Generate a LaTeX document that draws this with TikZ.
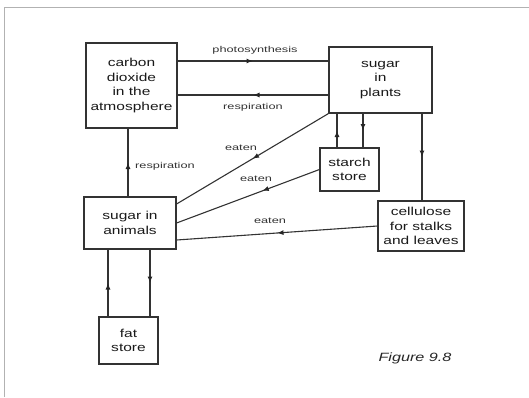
\documentclass[tikz,border=0pt]{standalone}
\usepackage{fontspec}
\setmainfont{Liberation Sans}[FakeStretch=1.35]
\newfontfamily\lblfont{Liberation Sans}[FakeStretch=1.5]
\usetikzlibrary{arrows.meta,decorations.markings}
\tikzset{
  box/.style={draw=black!80,line width=1.1pt,align=center,inner sep=0pt,
    text=black!90,font=\fontsize{11.5}{14.5}\selectfont},
  lbl/.style={text=black!80,font=\lblfont\fontsize{8.5}{10}\selectfont,inner sep=1pt},
  flow/.style={draw=black!80,line width=1.1pt,postaction={decorate},
    decoration={markings,mark=at position #1 with {\arrow[black!85]{Latex[length=6.5pt,width=5pt]}}}},
  flow/.default=0.5
}
\begin{document}
\begin{tikzpicture}[x=1pt,y=-1pt]
\useasboundingbox (0,0) rectangle (529,397);
\draw[gray!60,line width=0.8pt] (4,397) |- (529,7);
% stores
\node[box,minimum width=91pt,minimum height=85pt] (co2) at (131.5,85.5) {carbon\\dioxide\\in the\\atmosphere};
\node[box,minimum width=103pt,minimum height=66pt] (plants) at (380.5,80) {sugar\\in\\plants};
\node[box,minimum width=59pt,minimum height=43pt] (starch) at (349.5,169.5) {starch\\store};
\node[box,minimum width=86pt,minimum height=50pt] (cellulose) at (421,226) {cellulose\\for stalks\\and leaves};
\node[box,minimum width=92pt,minimum height=52pt] (animals) at (130,223) {sugar in\\animals};
\node[box,minimum width=59pt,minimum height=47pt] (fat) at (128.5,340.5) {fat\\store};
% flows
\draw[flow] ([yshift=24.5pt]co2.east) -- ([yshift=19pt]plants.west);
\draw[flow] ([yshift=-15pt]plants.west) -- ([yshift=-9.5pt]co2.east);
\draw[flow] ([xshift=-2pt]animals.north) -- ([xshift=-2pt]animals.north |- co2.south);
\draw[flow] ([xshift=-12.5pt]starch.north) -- ([xshift=-12.5pt]starch.north |- plants.south);
\draw[flow] ([xshift=13.5pt]starch.north |- plants.south) -- ([xshift=13.5pt]starch.north);
\draw[flow] ([xshift=1pt]cellulose.north |- plants.south) -- ([xshift=1pt]cellulose.north);
\draw[flow] (plants.south west) -- ([yshift=19pt]animals.east);
\draw[flow=0.4] (starch.west) -- (animals.east);
\draw[flow] (cellulose.west) -- ([yshift=-17pt]animals.east);
\draw[flow] ([xshift=-20.5pt]fat.north) -- ([xshift=-20.5pt]fat.north |- animals.south);
\draw[flow] ([xshift=21.5pt]fat.north |- animals.south) -- ([xshift=21.5pt]fat.north);
% labels
\node[lbl] (photo) at (255,50) {photosynthesis};
\node[lbl] (resp1) at (253,107) {respiration};
\node[lbl,anchor=west] (resp2) at (134,166) {respiration};
\node[lbl] (eat1) at (241,148) {eaten};
\node[lbl] (eat2) at (256,179) {eaten};
\node[lbl] (eat3) at (270,221) {eaten};
\node[text=black!85,font=\itshape\fontsize{12}{14}\selectfont] (fig) at (415,358) {Figure 9.8};
\end{tikzpicture}
\end{document}
